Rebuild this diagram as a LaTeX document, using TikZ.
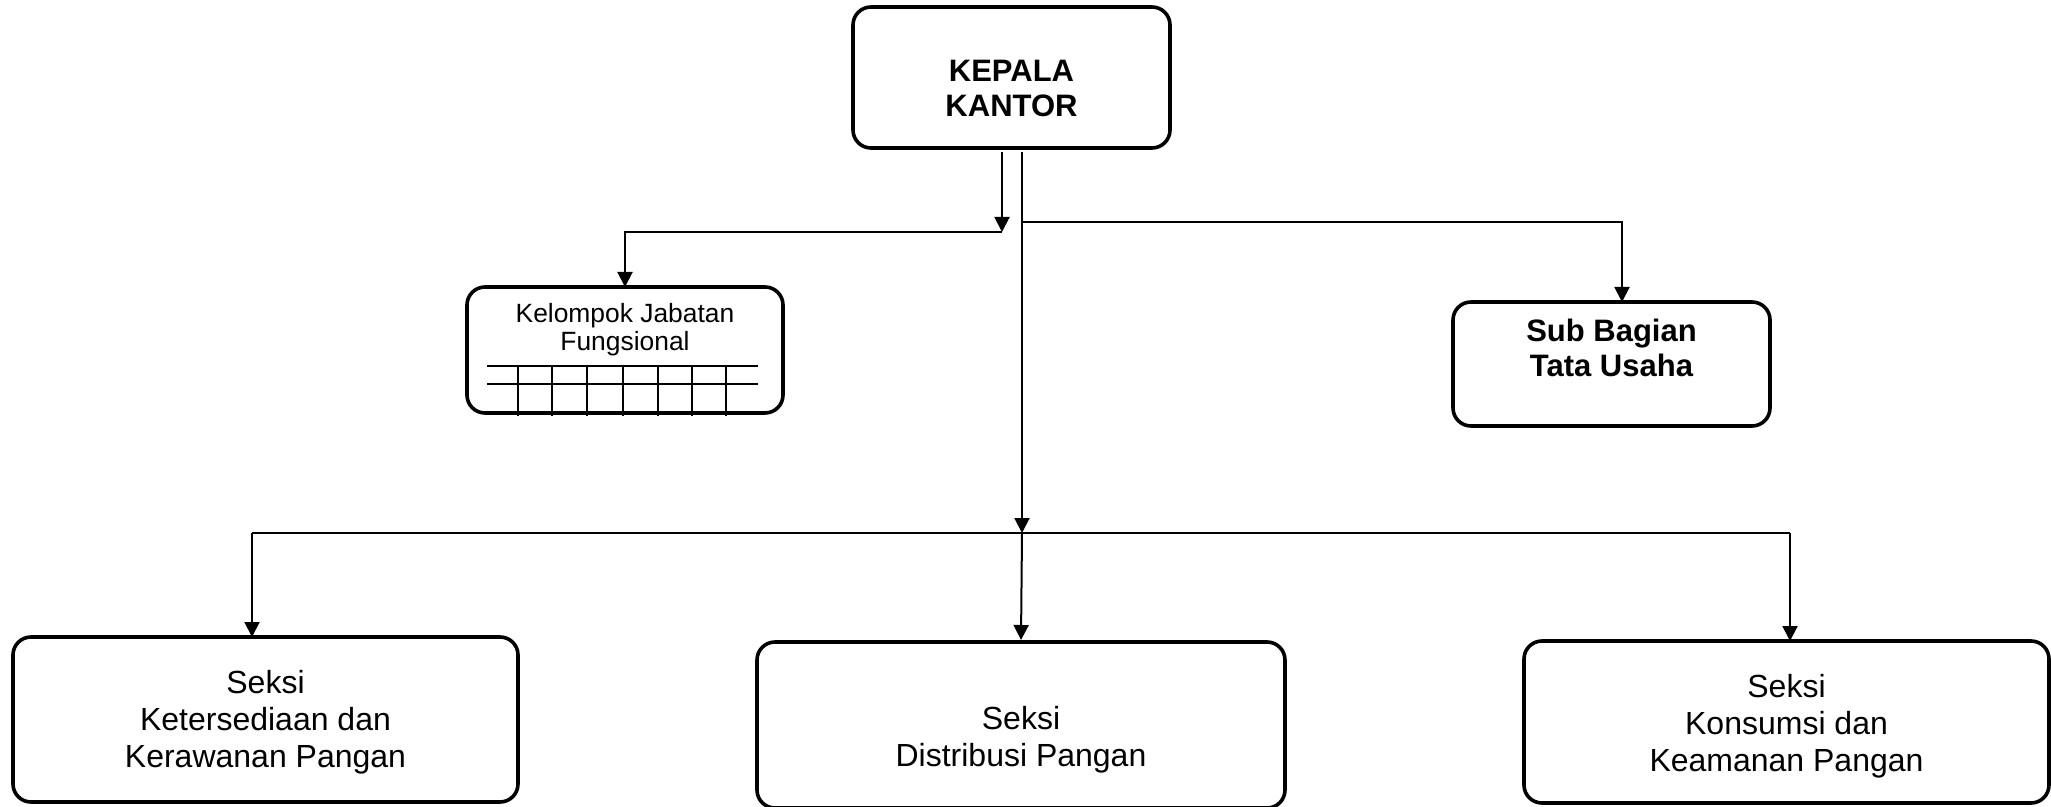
\documentclass[tikz,border=0pt]{standalone}
\usepackage{fontspec}
\setmainfont{Liberation Sans}
\usetikzlibrary{arrows.meta}
\begin{document}
\begin{tikzpicture}[x=0.5pt,y=-0.5pt,
  box/.style={draw, line width=1.8pt, rounded corners=9pt, inner sep=0pt, outer sep=0pt},
  conn/.style={line width=1pt},
  arr/.style={conn, -{Triangle[width=7.5pt,length=7.5pt]}},
  gridline/.style={line width=0.8pt},
  txt/.style={align=center, inner sep=0pt, font=\fontsize{16}{18.5}\selectfont},
  txtB/.style={align=center, inner sep=0pt, font=\bfseries\fontsize{15.5}{17.5}\selectfont},
  txtS/.style={align=center, inner sep=0pt, font=\fontsize{13.2}{14}\selectfont}]
\useasboundingbox (0,0) rectangle (2051,807);

% boxes
\node[box, minimum width=158.5pt, minimum height=70.5pt] (kepala) at (1011.5,77.5) {};
\node[box, minimum width=158pt, minimum height=63pt] (kel) at (625,350) {};
\node[box, minimum width=158.5pt, minimum height=62pt] (sub) at (1611.5,364) {};
\node[box, minimum width=252.5pt, minimum height=82.5pt] (s1) at (265.5,719.5) {};
\node[box, minimum width=264pt, minimum height=83pt] (s2) at (1021,725) {};
\node[box, minimum width=262.5pt, minimum height=81pt] (s3) at (1786.5,722) {};

% texts
\node[txtB] (tk) at (1011.5,88) {KEPALA\\KANTOR};
\node[txtS] (tkel) at (625,330) {Kelompok Jabatan\\Fungsional};
\node[txtB] (tsub) at (1611.5,348) {Sub Bagian\\Tata Usaha};
\node[txt] (t1) at (265.5,722) {Seksi\\Ketersediaan dan\\Kerawanan Pangan};
\node[txt] (t2) at (1021,740) {Seksi\\Distribusi Pangan};
\node[txt] (t3) at (1786.5,726) {Seksi\\Konsumsi dan\\Keamanan Pangan};

% grid inside Kelompok box
\draw[gridline] (487,366) -- (758,366);
\draw[gridline] (487,384) -- (758,384);
\foreach \gx in {518,552,587,623,658,692,726}
  \draw[gridline] (\gx,366) -- (\gx,416);

% coordinates
\coordinate (kL) at (1002,152);
\coordinate (kR) at (1022,152);
\coordinate (j1) at (1002,232);
\coordinate (j2) at (1022,222);
\coordinate (subT) at (1622,0);
\coordinate (bus) at (1022,533);
\coordinate (busL) at (252,533);
\coordinate (busR) at (1790,533);

% connectors
\draw[arr] (kL) -- (j1);
\draw[arr] (j1) -| (kel.north);
\draw[arr] (kR) -- (bus);
\draw[arr] (j2) -| (subT |- sub.north);
\draw[conn] (busL) -- (busR);
\draw[arr] (busL) -- (busL |- s1.north);
\draw[arr] (bus) -- ([yshift=1pt]s2.north);
\draw[arr] (busR) -- (busR |- s3.north);
\end{tikzpicture}
\end{document}
